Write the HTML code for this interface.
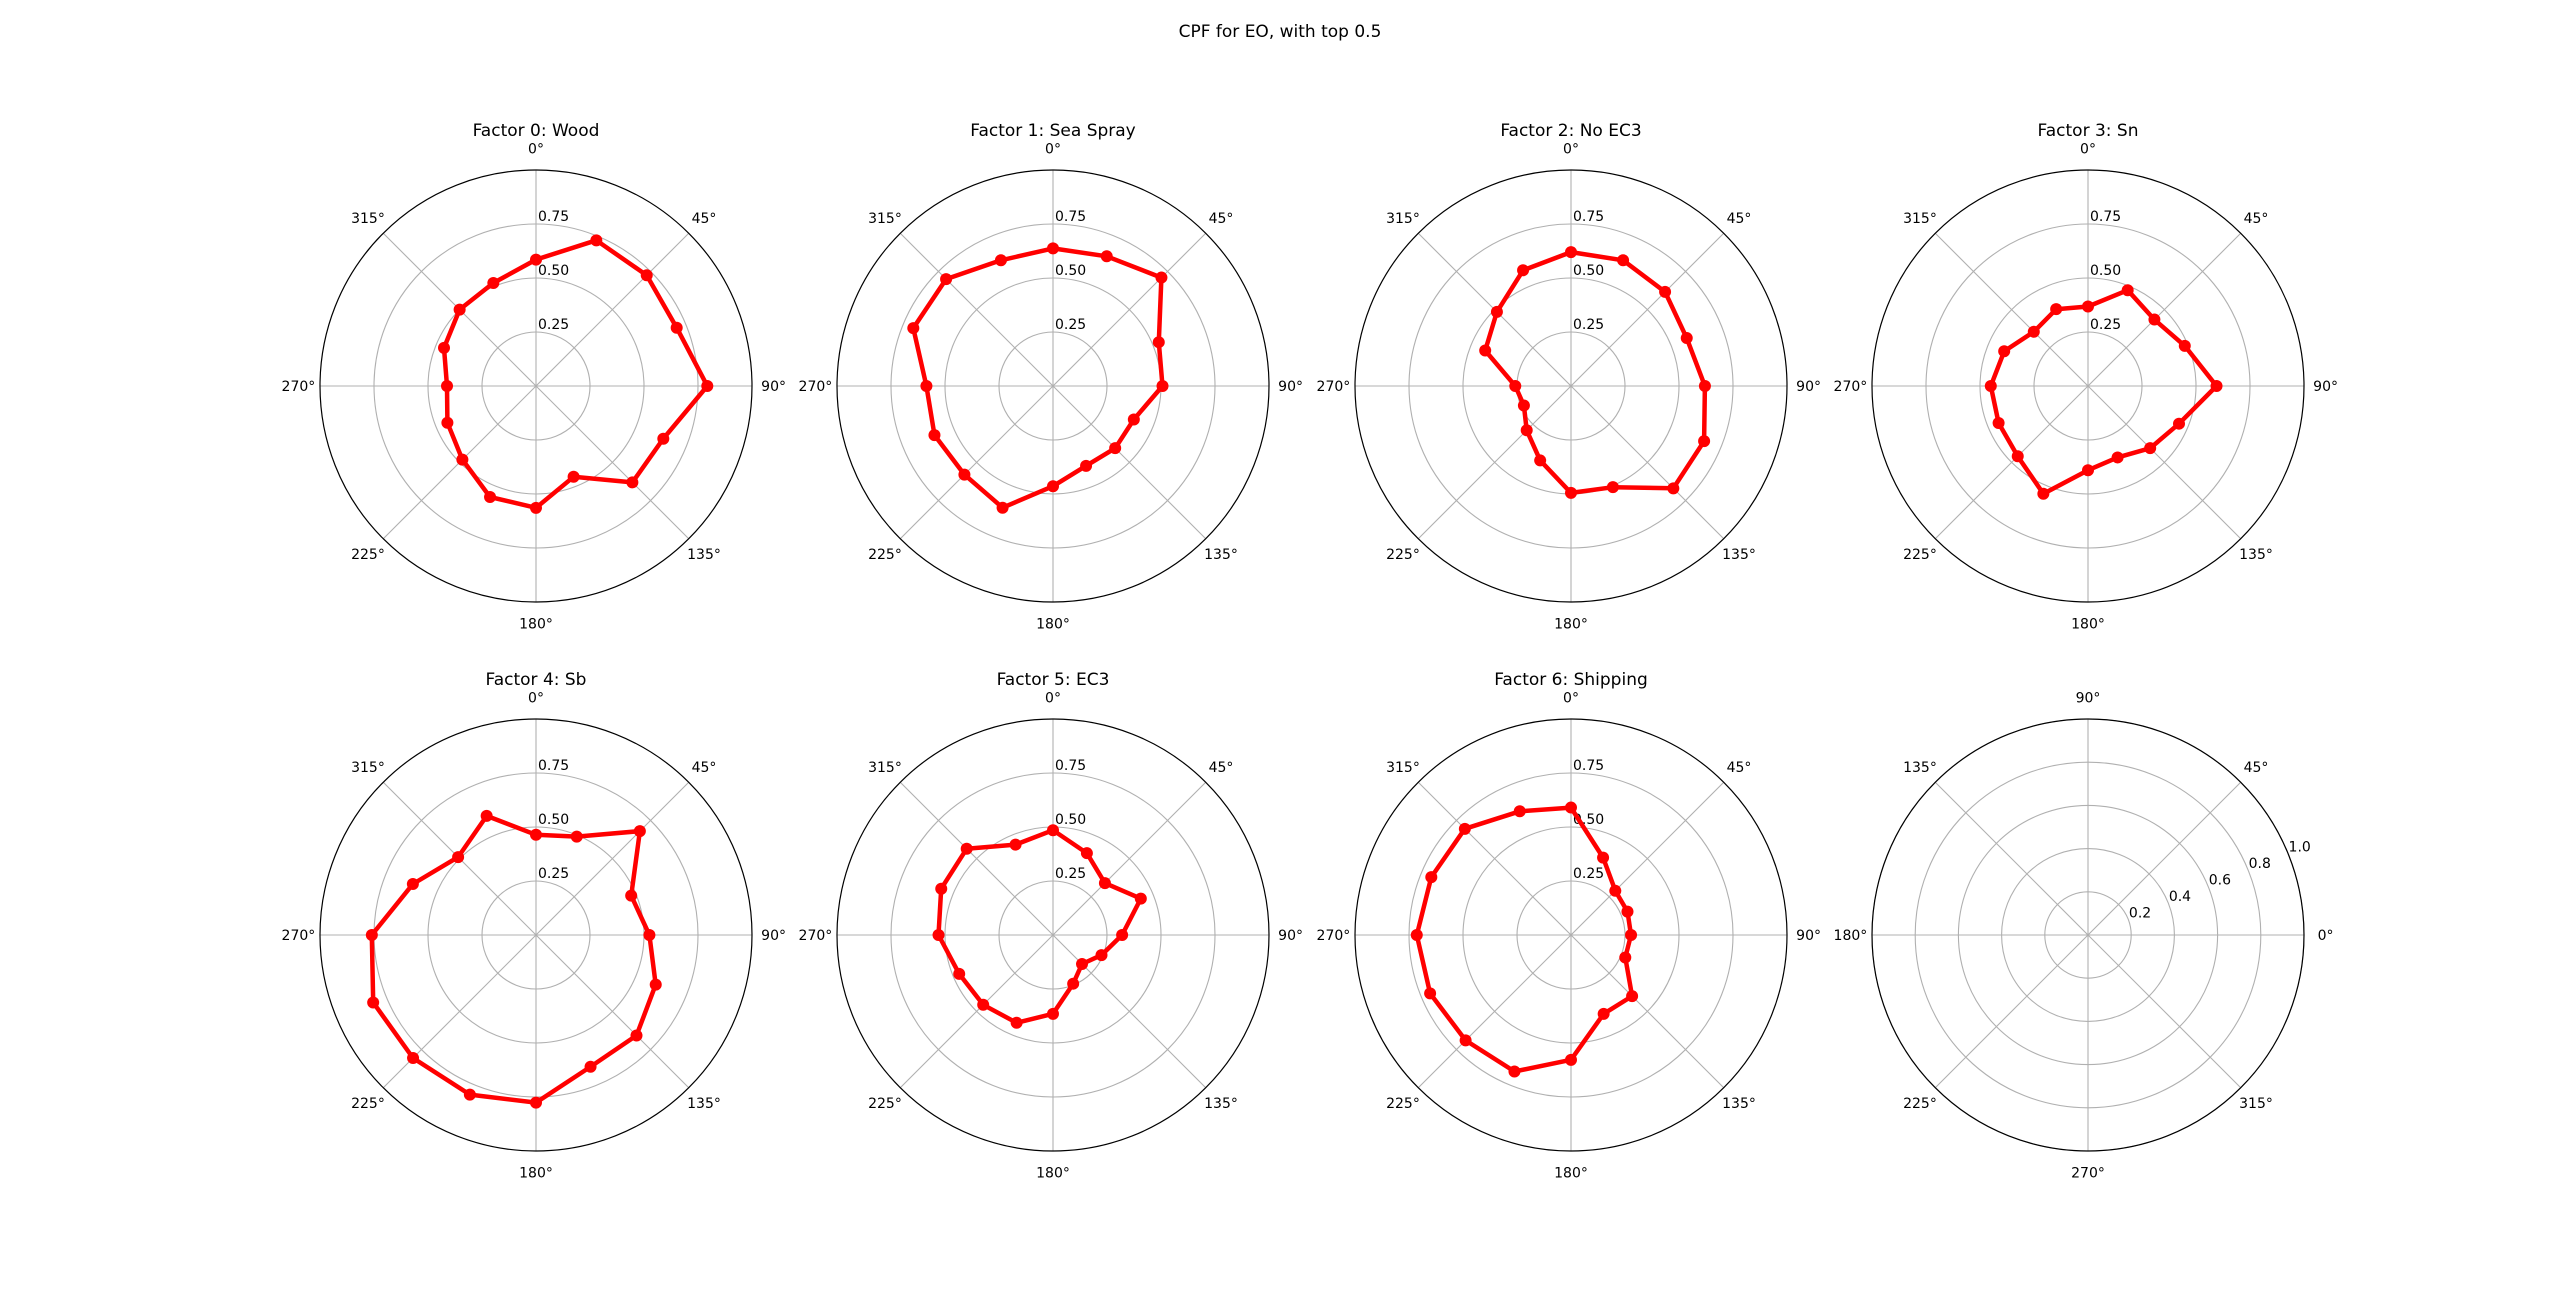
<!DOCTYPE html>
<html><head><meta charset="utf-8"><style>
html,body{margin:0;padding:0;background:#fff;}
svg{display:block;font-family:"DejaVu Sans","Liberation Sans",sans-serif;}
</style></head><body>
<svg id="fig" width="2560" height="1307" viewBox="0 0 2560 1307" xmlns="http://www.w3.org/2000/svg">
<rect width="2560" height="1307" fill="#fff"/>
<text x="1280" y="37" text-anchor="middle" font-size="17">CPF for EO, with top 0.5</text>
</svg>
<script>
const directions = [0,22.5,45,67.5,90,112.5,135,157.5,180,202.5,225,247.5,270,292.5,315,337.5];
const titles = ["Factor 0: Wood","Factor 1: Sea Spray","Factor 2: No EC3","Factor 3: Sn","Factor 4: Sb","Factor 5: EC3","Factor 6: Shipping"];
const f0 = [0.585,0.73,0.725,0.705,0.793,0.638,0.631,0.455,0.564,0.556,0.482,0.444,0.412,0.461,0.5,0.516];
const f1 = [0.637,0.65,0.71,0.53,0.507,0.405,0.407,0.40,0.464,0.61,0.58,0.594,0.586,0.70,0.70,0.63];
const f2 = [0.62,0.63,0.616,0.58,0.62,0.667,0.67,0.507,0.495,0.373,0.29,0.236,0.258,0.43,0.485,0.58];
const f3 = [0.368,0.48,0.435,0.485,0.595,0.456,0.407,0.358,0.39,0.54,0.46,0.448,0.45,0.42,0.355,0.385];
const f4 = [0.464,0.493,0.68,0.477,0.525,0.6,0.658,0.66,0.776,0.80,0.805,0.816,0.76,0.617,0.51,0.597];
const f5 = [0.485,0.41,0.34,0.44,0.32,0.243,0.19,0.244,0.365,0.44,0.457,0.47,0.53,0.56,0.565,0.453];
const f6 = [0.59,0.388,0.29,0.283,0.278,0.272,0.40,0.395,0.578,0.684,0.69,0.706,0.714,0.70,0.695,0.62];
const rTicks = [0.25,0.5,0.75];
const rTickLabels = ["0.25","0.50","0.75"];
const emptyTicks = [0.2,0.4,0.6,0.8,1.0];
const emptyTickLabels = ["0.2","0.4","0.6","0.8","1.0"];
const angleTicks = [0,45,90,135,180,225,270,315];

const series = [f0,f1,f2,f3,f4,f5,f6];
const NS = "http://www.w3.org/2000/svg";
const svg = document.getElementById('fig');
const R = 216, RMAX = 1.0;
const centers = [[536,386],[1053,386],[1571,386],[2088,386],[536,935],[1053,935],[1571,935],[2088,935]];
function mk(tag, attrs, parent){const e=document.createElementNS(NS,tag);for(const k in attrs)e.setAttribute(k,attrs[k]);(parent||svg).appendChild(e);return e;}
// compass (clockwise from north) projection
function pc(cx,cy,deg,v){const a=deg*Math.PI/180;const r=v/RMAX*R;return [cx+r*Math.sin(a), cy-r*Math.cos(a)];}
// standard (ccw from east) projection
function ps(cx,cy,deg,v){const a=deg*Math.PI/180;const r=v/RMAX*R;return [cx+r*Math.cos(a), cy-r*Math.sin(a)];}

function drawAxes(g,cx,cy,proj,ticks,labels,compass){
  for(const t of ticks){
    const c=mk('circle',{cx:cx,cy:cy,r:t/RMAX*R,fill:'none',stroke:'#b0b0b0','stroke-width':1.1},g);
    
    
  }
  for(const d of angleTicks){
    const p=proj(cx,cy,d,RMAX);
    const l=mk('line',{x1:cx,y1:cy,x2:p[0],y2:p[1],stroke:'#b0b0b0','stroke-width':1.1},g);
    
    
    const q=proj(cx,cy,d,RMAX*1.1);
    const tx=mk('text',{x:q[0],y:q[1]+5,'text-anchor':'middle','font-size':14},g);
    tx.textContent=d+'°';
    
    
  }
  ticks.forEach((t,i)=>{
    let x,y;
    if(compass){x=cx+2;y=cy-t/RMAX*R-3;}
    else{const p=ps(cx,cy,22.5,t);x=p[0]+1;y=p[1]-1;}
    const tx=mk('text',{x:x,y:y,'font-size':14},g);
    tx.textContent=labels[i];
    
    
  });
  const o=mk('circle',{cx:cx,cy:cy,r:R,fill:'none',stroke:'#000','stroke-width':1.2},g);
  
  
}

series.forEach((vals,i)=>{
  const [cx,cy]=centers[i];
  const g=mk('g',{});
  
  
  drawAxes(g,cx,cy,pc,rTicks,rTickLabels,true);
  const t=mk('text',{x:cx,y:136,'text-anchor':'middle','font-size':17},g);
  if(i>=4) t.setAttribute('y',685);
  t.textContent=titles[i];
  
  
  const pts=vals.map((v,k)=>pc(cx,cy,directions[k],v));
  pts.push(pts[0]);
  const pl=mk('polyline',{points:pts.map(p=>p[0].toFixed(1)+','+p[1].toFixed(1)).join(' '),fill:'none',stroke:'#ff0000','stroke-width':4.5,'stroke-linejoin':'round'},g);
  
  
  vals.forEach((v,k)=>{
    const p=pc(cx,cy,directions[k],v);
    const m=mk('circle',{cx:p[0],cy:p[1],r:6,fill:'#ff0000'},g);
    
    
  });
});
// empty 8th plot
(function(){
  const [cx,cy]=centers[7];
  const g=mk('g',{});
  
  
  drawAxes(g,cx,cy,ps,emptyTicks,emptyTickLabels,false);
})();
</script>
</body></html>
